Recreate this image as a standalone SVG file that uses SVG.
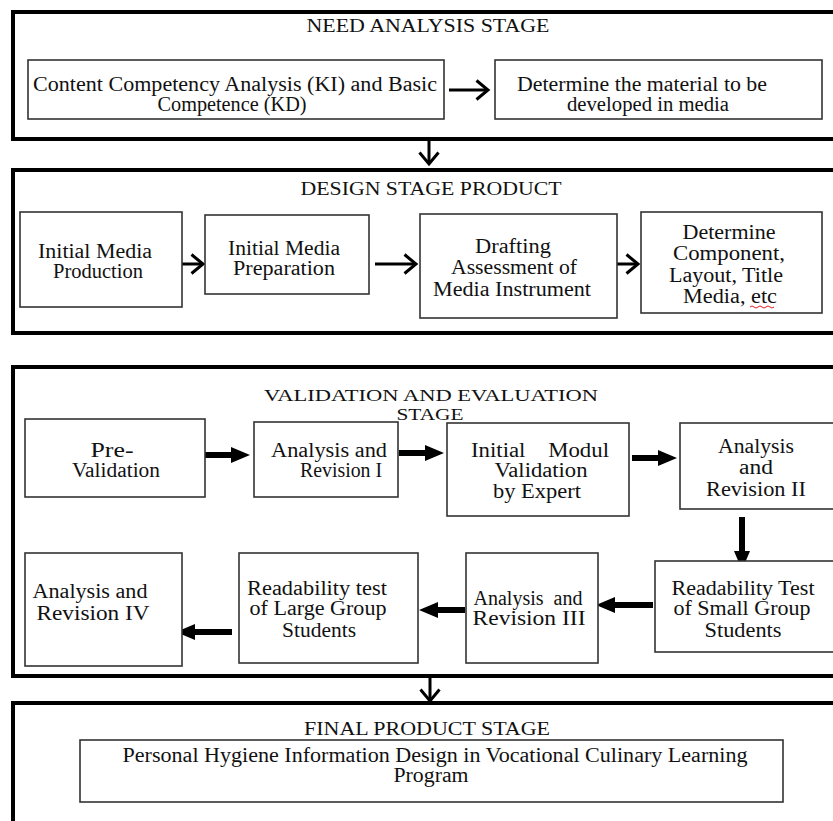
<svg xmlns="http://www.w3.org/2000/svg" width="833" height="821" viewBox="0 0 833 821">
<style>
  .outer{fill:none;stroke:#000;stroke-width:4}
  .box{fill:#fff;stroke:#333;stroke-width:1.6}
  text{font-family:"Liberation Serif","Times New Roman",serif;fill:#111;text-anchor:middle}
  .t{font-size:18px}
  .t2{font-size:17px}
  .b{font-size:20px}
  .chev{fill:none;stroke:#000;stroke-width:3}
  .blk{fill:none;stroke:#000;stroke-width:6}
</style>
<defs>
  <marker id="open" markerUnits="userSpaceOnUse" markerWidth="16" markerHeight="22" viewBox="0 0 16 22" refX="13" refY="11" orient="auto">
    <path d="M1.5,1.5 L13,11 L1.5,20.5" fill="none" stroke="#000" stroke-width="3"/>
  </marker>
  <marker id="solid" markerUnits="userSpaceOnUse" markerWidth="20" markerHeight="18" viewBox="0 0 20 18" refX="8" refY="9" orient="auto">
    <path d="M0,1 L19,9 L0,17 z" fill="#000"/>
  </marker>
</defs>
<rect width="833" height="821" fill="#fff"/>

<!-- stage frames -->
<g id="stage-need"><rect class="outer" x="13" y="12" width="840" height="127"/><text class="t" x="428" y="32" textLength="243" lengthAdjust="spacingAndGlyphs">NEED ANALYSIS STAGE</text></g>
<g id="stage-design"><rect class="outer" x="13" y="170" width="840" height="163"/><text class="t" x="431" y="195" textLength="261" lengthAdjust="spacingAndGlyphs">DESIGN STAGE PRODUCT</text></g>
<g id="stage-validation"><rect class="outer" x="13" y="367" width="840" height="309"/><text class="t2" x="431" y="401" textLength="334" lengthAdjust="spacingAndGlyphs">VALIDATION AND EVALUATION</text><text class="t2" x="430" y="420" textLength="67" lengthAdjust="spacingAndGlyphs">STAGE</text></g>
<g id="stage-final"><rect class="outer" x="13" y="703" width="840" height="140"/><text class="t" x="427" y="735" textLength="246" lengthAdjust="spacingAndGlyphs">FINAL PRODUCT STAGE</text></g>

<!-- connectors -->
<g id="connectors">
  <line class="chev" x1="449" y1="90" x2="488" y2="90" marker-end="url(#open)"/>
  <line class="chev" x1="429" y1="140" x2="429" y2="164" marker-end="url(#open)"/>
  <line class="chev" x1="162" y1="264" x2="203" y2="264" marker-end="url(#open)"/>
  <line class="chev" x1="375" y1="264" x2="416" y2="264" marker-end="url(#open)"/>
  <line class="chev" x1="597" y1="264" x2="638" y2="264" marker-end="url(#open)"/>
  <line class="chev" x1="430" y1="678" x2="430" y2="701" marker-end="url(#open)"/>
  <line class="blk" x1="205" y1="455" x2="239" y2="455" marker-end="url(#solid)"/>
  <line class="blk" x1="399" y1="453" x2="433" y2="453" marker-end="url(#solid)"/>
  <line class="blk" x1="632" y1="458" x2="666" y2="458" marker-end="url(#solid)"/>
  <line class="blk" x1="742" y1="517" x2="742" y2="559" marker-end="url(#solid)"/>
  <line class="blk" x1="653" y1="605" x2="607" y2="605" marker-end="url(#solid)"/>
  <line class="blk" x1="465" y1="610" x2="430" y2="610" marker-end="url(#solid)"/>
  <line class="blk" x1="232" y1="632" x2="187" y2="632" marker-end="url(#solid)"/>
</g>

<!-- need analysis nodes -->
<g id="n-ki-kd"><rect class="box" x="28" y="60" width="416" height="59"/>
  <text class="b" x="235" y="91" textLength="404" lengthAdjust="spacingAndGlyphs">Content Competency Analysis (KI) and Basic</text>
  <text class="b" x="232" y="111" textLength="149" lengthAdjust="spacingAndGlyphs">Competence (KD)</text></g>
<g id="n-material"><rect class="box" x="495" y="60" width="327" height="59"/>
  <text class="b" x="642" y="91" textLength="250" lengthAdjust="spacingAndGlyphs">Determine the material to be</text>
  <text class="b" x="648" y="111" textLength="162" lengthAdjust="spacingAndGlyphs">developed in media</text></g>

<!-- design nodes -->
<g id="n-production"><rect class="box" x="20" y="212" width="162" height="95"/>
  <text class="b" x="95" y="258" textLength="114" lengthAdjust="spacingAndGlyphs">Initial Media</text>
  <text class="b" x="98" y="278" textLength="90" lengthAdjust="spacingAndGlyphs">Production</text></g>
<g id="n-preparation"><rect class="box" x="205" y="215" width="164" height="79"/>
  <text class="b" x="284" y="255" textLength="112" lengthAdjust="spacingAndGlyphs">Initial Media</text>
  <text class="b" x="284" y="275" textLength="102" lengthAdjust="spacingAndGlyphs">Preparation</text></g>
<g id="n-drafting"><rect class="box" x="420" y="214" width="197" height="104"/>
  <text class="b" x="513" y="253" textLength="76" lengthAdjust="spacingAndGlyphs">Drafting</text>
  <text class="b" x="514" y="274" textLength="126" lengthAdjust="spacingAndGlyphs">Assessment of</text>
  <text class="b" x="512" y="296" textLength="158" lengthAdjust="spacingAndGlyphs">Media Instrument</text></g>
<g id="n-component"><rect class="box" x="641" y="212" width="181" height="101"/>
  <text class="b" x="729" y="239" textLength="93" lengthAdjust="spacingAndGlyphs">Determine</text>
  <text class="b" x="729" y="260" textLength="112" lengthAdjust="spacingAndGlyphs">Component,</text>
  <text class="b" x="726" y="282" textLength="114" lengthAdjust="spacingAndGlyphs">Layout, Title</text>
  <text class="b" x="730" y="303" textLength="94" lengthAdjust="spacingAndGlyphs">Media, etc</text>
  <path d="M750,307 q2,-2 4,0 t4,0 t4,0 t4,0 t4,0 t4,0" fill="none" stroke="#d22" stroke-width="1"/></g>

<!-- validation nodes -->
<g id="n-prevalidation"><rect class="box" x="25" y="419" width="180" height="78"/>
  <text class="b" x="112" y="457" textLength="43" lengthAdjust="spacingAndGlyphs">Pre-</text>
  <text class="b" x="116" y="477" textLength="88" lengthAdjust="spacingAndGlyphs">Validation</text></g>
<g id="n-revision1"><rect class="box" x="254" y="422" width="144" height="75"/>
  <text class="b" x="329" y="457" textLength="116" lengthAdjust="spacingAndGlyphs">Analysis and</text>
  <text class="b" x="341" y="477" textLength="82" lengthAdjust="spacingAndGlyphs">Revision I</text></g>
<g id="n-expert"><rect class="box" x="447" y="423" width="182" height="93"/>
  <text class="b" x="540" y="457" textLength="138" lengthAdjust="spacingAndGlyphs" xml:space="preserve">Initial    Modul</text>
  <text class="b" x="541" y="477" textLength="93" lengthAdjust="spacingAndGlyphs">Validation</text>
  <text class="b" x="537" y="498" textLength="88" lengthAdjust="spacingAndGlyphs">by Expert</text></g>
<g id="n-revision2"><rect class="box" x="680" y="423" width="170" height="86"/>
  <text class="b" x="756" y="453" textLength="76" lengthAdjust="spacingAndGlyphs">Analysis</text>
  <text class="b" x="756" y="474" textLength="34" lengthAdjust="spacingAndGlyphs">and</text>
  <text class="b" x="756" y="496" textLength="100" lengthAdjust="spacingAndGlyphs">Revision II</text></g>
<g id="n-small-group"><rect class="box" x="655" y="561" width="195" height="91"/>
  <text class="b" x="743" y="595" textLength="143" lengthAdjust="spacingAndGlyphs">Readability Test</text>
  <text class="b" x="742" y="615" textLength="137" lengthAdjust="spacingAndGlyphs">of Small Group</text>
  <text class="b" x="743" y="637" textLength="77" lengthAdjust="spacingAndGlyphs">Students</text></g>
<g id="n-revision3"><rect class="box" x="466" y="553" width="132" height="110"/>
  <text class="b" x="528" y="605" textLength="109" lengthAdjust="spacingAndGlyphs" xml:space="preserve">Analysis  and</text>
  <text class="b" x="529" y="625" textLength="113" lengthAdjust="spacingAndGlyphs">Revision III</text></g>
<g id="n-large-group"><rect class="box" x="239" y="553" width="179" height="110"/>
  <text class="b" x="317" y="595" textLength="140" lengthAdjust="spacingAndGlyphs">Readability test</text>
  <text class="b" x="318" y="615" textLength="137" lengthAdjust="spacingAndGlyphs">of Large Group</text>
  <text class="b" x="319" y="637" textLength="74" lengthAdjust="spacingAndGlyphs">Students</text></g>
<g id="n-revision4"><rect class="box" x="25" y="553" width="157" height="113"/>
  <text class="b" x="90" y="598" textLength="115" lengthAdjust="spacingAndGlyphs">Analysis and</text>
  <text class="b" x="93" y="620" textLength="113" lengthAdjust="spacingAndGlyphs">Revision IV</text></g>

<!-- final node -->
<g id="n-final"><rect class="box" x="80" y="740" width="703" height="62"/>
  <text class="b" x="435" y="762" textLength="625" lengthAdjust="spacingAndGlyphs">Personal Hygiene Information Design in Vocational Culinary Learning</text>
  <text class="b" x="431" y="782" textLength="75" lengthAdjust="spacingAndGlyphs">Program</text></g>
</svg>
